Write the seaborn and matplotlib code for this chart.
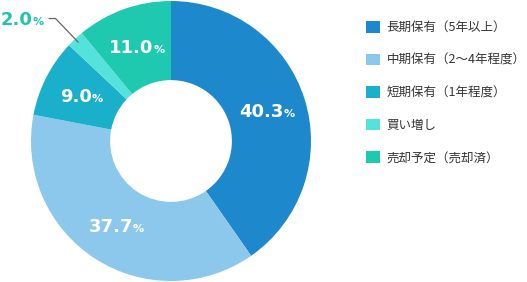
import numpy as np
import matplotlib
matplotlib.use("Agg")
import matplotlib.pyplot as plt
from matplotlib.patches import Patch
import seaborn as sns

# ---- data ----
categories = ["長期保有（5年以上）", "中期保有（2〜4年程度）", "短期保有（1年程度）", "買い増し", "売却予定（売却済）"]
values = [40.3, 37.7, 9.0, 2.0, 11.0]
value_labels = ["40.3", "37.7", "9.0", "2.0", "11.0"]
colors = ["#1e88cc", "#8cc8ec", "#1aafca", "#55e2dc", "#1ec9b0"]

sns.set_theme(style="white")
plt.rcParams["font.family"] = ["Noto Sans CJK JP", "DejaVu Sans"]

W, H = 527, 282
fig = plt.figure(figsize=(W / 100, H / 100), dpi=100)
ax = fig.add_axes([31 / W, 1 / H, 280 / W, 280 / H])

inner = 0.435
wedges, _ = ax.pie(values, colors=colors, startangle=90, counterclock=False,
                   radius=1.0, wedgeprops=dict(width=1 - inner, edgecolor="none", linewidth=0))
ax.set_xlim(-1, 1)
ax.set_ylim(-1, 1)
ax.set_aspect("equal")
ax.axis("off")

fig.canvas.draw()
renderer = fig.canvas.get_renderer()

num_font = dict(family="DejaVu Sans", weight="bold", fontsize=13)
pct_font = dict(family="DejaVu Sans", weight="bold", fontsize=8)


def place_label(x, y, txt, color):
    # place number + smaller % sign centred at data point (x, y)
    t1 = ax.text(x, y, txt, ha="left", va="baseline", color=color, **num_font)
    t2 = ax.text(x, y, "%", ha="left", va="baseline", color=color, **pct_font)
    b1 = t1.get_window_extent(renderer)
    b2 = t2.get_window_extent(renderer)
    gap = 0.0
    total = b1.width + gap + b2.width
    px, py = ax.transData.transform((x, y))
    left = px - total / 2
    base = py - 6.5
    inv = ax.transData.inverted()
    t1.set_position(inv.transform((left, base)))
    t2.set_position(inv.transform((left + b1.width + gap, base)))


r_mid = (1 + inner) / 2
cum = np.cumsum([0] + values)
total_v = sum(values)
for i, (v, lab) in enumerate(zip(values, value_labels)):
    mid = (cum[i] + cum[i + 1]) / 2 / total_v * 2 * np.pi
    x = r_mid * np.sin(mid)
    y = r_mid * np.cos(mid)
    if lab == "2.0":
        # outside label with leader line
        inv = ax.transData.inverted()
        p_end = ax.transData.transform((0.965 * np.sin(mid), 0.965 * np.cos(mid)))
        p_knee = (p_end[0] - 23, p_end[1] + 24)
        p_start = (p_knee[0] - 7, p_knee[1])
        pts = inv.transform([p_start, p_knee, p_end])
        ax.plot(pts[:, 0], pts[:, 1], color="#666666", lw=0.9, solid_capstyle="butt")
        lab_pt = inv.transform((p_start[0] - 26.5, p_start[1]))
        place_label(lab_pt[0], lab_pt[1], lab, "#1ec4ac")
    else:
        place_label(x, y, lab, "white")

handles = [Patch(facecolor=c, edgecolor="none") for c in colors]
leg = fig.legend(handles, categories, loc="upper left",
                 bbox_to_anchor=(366 / W, 1 - 21 / H), frameon=False,
                 fontsize=9, handlelength=1.08, handleheight=1.08,
                 handletextpad=0.55, labelspacing=1.55, borderpad=0, borderaxespad=0)
for t in leg.get_texts():
    t.set_color("#333333")

fig.savefig("out.png", dpi=100)
